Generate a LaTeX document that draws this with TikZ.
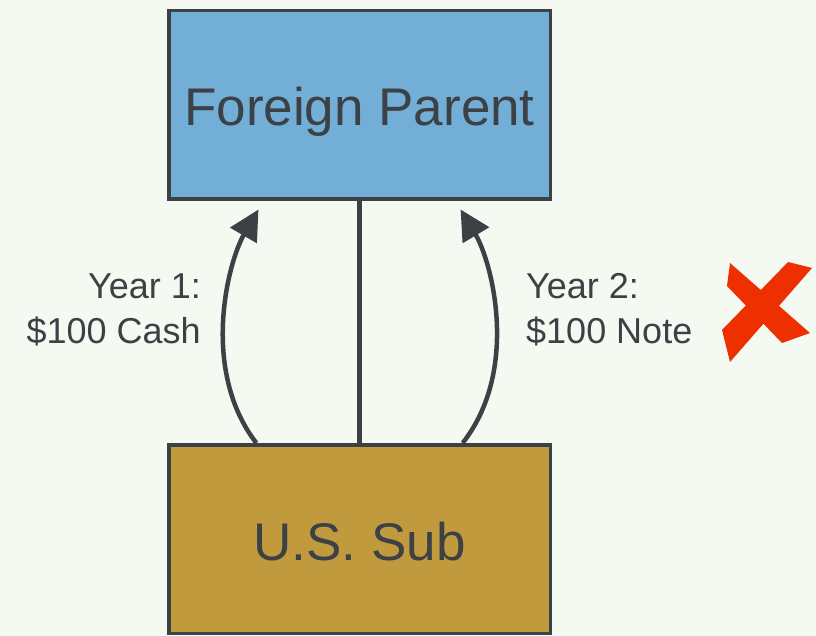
\documentclass[tikz,border=0pt]{standalone}
\usepackage{fontspec}
\setmainfont{Liberation Sans}
\usetikzlibrary{arrows.meta,calc}
\definecolor{bg}{HTML}{F4F9F1}
\definecolor{ink}{HTML}{3C4146}
\definecolor{parentblue}{HTML}{72AED6}
\definecolor{subgold}{HTML}{C19A3E}
\definecolor{xred}{HTML}{EE3000}
\begin{document}
\begin{tikzpicture}[x=1pt,y=-1pt,
  entity/.style={draw=ink, line width=3.5pt, text=ink, inner sep=0pt,
    minimum width=381.5pt, minimum height=188.5pt,
    font=\fontsize{53}{60}\selectfont, text height=42pt, text depth=0pt},
  flow/.style={draw=ink, line width=4.5pt,
    -{Triangle[length=30pt,width=30pt]}},
  link/.style={draw=ink, line width=4.5pt},
  lbl/.style={text=ink, inner sep=0pt, font=\fontsize{36}{45}\selectfont}]
  % canvas
  \fill[bg] (0,0) rectangle (816,636);
  \useasboundingbox (0,0) rectangle (816,636);

  % entities
  \node[entity, fill=parentblue] (fp) at (359.5,105) {Foreign Parent};
  \node[entity, fill=subgold] (us) at (359.5,539) {U.S. Sub};

  % ownership line
  \draw[link] (fp.south) -- (us.north);

  % payments upstream
  \draw[flow] ($(us.north west)!0.232!(us.north east)$)
    .. controls (200,370) and (228,262) ..
    ($(fp.south west)!0.2375!(fp.south east)+(0,8.5)$);
  \draw[flow] ($(us.north east)!0.232!(us.north west)$)
    .. controls (520,370) and (492,262) ..
    ($(fp.south east)!0.2375!(fp.south west)+(0,8.5)$);

  % labels (anchored on the baseline of the second line)
  \node[lbl, anchor=base east, align=right] (y1) at (201,343) {Year 1:\\\$100 Cash};
  \node[lbl, anchor=base west, align=left] (y2) at (526,343) {Year 2:\\\$100 Note};

  % cross mark
  \fill[xred] (730,263) -- (810,333) -- (782,343) -- (727,286) -- cycle;
  \fill[xred] (788,262) -- (812,268) -- (730,362) -- (722,330) -- cycle;
\end{tikzpicture}
\end{document}
